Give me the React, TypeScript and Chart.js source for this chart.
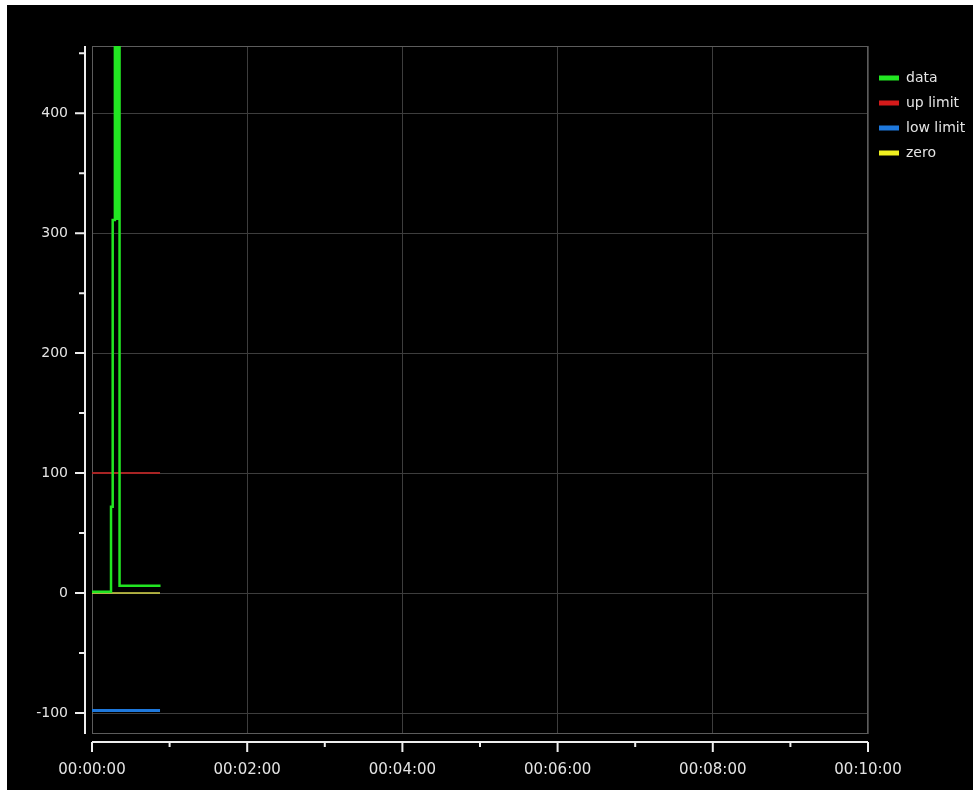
import React, { useEffect, useRef } from 'react';
import { Chart, registerables } from 'chart.js';

Chart.register(...registerables);

// seconds since start
const dataTimes = [0, 14.7, 14.7, 16, 16, 17.7, 17.7, 18.9, 18.9, 20.1, 20.1, 21.3, 21.3, 53];
const dataValues = [1, 1, 72, 72, 311, 311, 1500, 1500, 312, 312, 1500, 1500, 6, 6];

const limitTimes = [0, 52.6];
const upLimit = [100, 100];
const lowLimit = [-98, -98];
const zeroLine = [0, 0];

const yTicks = [-100, 0, 100, 200, 300, 400];
const yMinorTicks = [-100, -50, 0, 50, 100, 150, 200, 250, 300, 350, 400, 450];
const xTicks = [0, 120, 240, 360, 480, 600];
const xMinorTicks = [0, 60, 120, 180, 240, 300, 360, 420, 480, 540, 600];

const GRID = '#3d3d3d';
const FRAME = '#5c5c5c';
const AXIS = '#eeeeee';
const TEXT = '#e4e4e4';
const FAMILY = '"DejaVu Sans", Verdana, sans-serif';

const fmtTime = (s: number) => {
  const h = Math.floor(s / 3600);
  const m = Math.floor((s % 3600) / 60);
  const sec = Math.round(s % 60);
  return [h, m, sec].map(n => String(n).padStart(2, '0')).join(':');
};

const toPoints = (xs: number[], ys: number[]) => xs.map((x, i) => ({ x, y: ys[i] }));

// frame around the plot, and the detached white axes with their tick marks
const axisDecor = {
  id: 'axisDecor',
  beforeDatasetsDraw(chart: any) {
    const { ctx, chartArea: a } = chart;
    ctx.save();
    ctx.strokeStyle = FRAME;
    ctx.lineWidth = 1;
    ctx.strokeRect(a.left + 0.5, a.top + 0.5, a.right - a.left - 1, a.bottom - a.top - 1);
    ctx.restore();
  },
  afterDraw(chart: any) {
    const { ctx, chartArea: a, scales } = chart;
    const ax = a.left - 7;
    const ay = a.bottom + 8;
    ctx.save();
    ctx.strokeStyle = AXIS;
    ctx.lineWidth = 2;
    ctx.beginPath();
    ctx.moveTo(ax, a.top);
    ctx.lineTo(ax, a.bottom);
    ctx.moveTo(a.left, ay);
    ctx.lineTo(a.right, ay);
    yMinorTicks.forEach(v => {
      const y = scales.y.getPixelForValue(v);
      const len = yTicks.includes(v) ? 10 : 6;
      ctx.moveTo(ax - len, y);
      ctx.lineTo(ax, y);
    });
    xMinorTicks.forEach(v => {
      const x = scales.x.getPixelForValue(v);
      const len = xTicks.includes(v) ? 10 : 5;
      ctx.moveTo(x, ay);
      ctx.lineTo(x, ay + len);
    });
    ctx.stroke();
    ctx.restore();
  },
};

const App: React.FC = () => {
  const canvasRef = useRef<HTMLCanvasElement | null>(null);

  useEffect(() => {
    if (!canvasRef.current) return;
    const chart = new Chart(canvasRef.current, {
      type: 'line',
      data: {
        datasets: [
          { label: 'data', data: toPoints(dataTimes, dataValues), borderColor: '#22e622', backgroundColor: '#22e622', borderWidth: 2.5 },
          { label: 'up limit', data: toPoints(limitTimes, upLimit), borderColor: '#a82424', backgroundColor: '#d41a1a', borderWidth: 2 },
          { label: 'low limit', data: toPoints(limitTimes, lowLimit), borderColor: '#1e78dc', backgroundColor: '#1e78dc', borderWidth: 3 },
          { label: 'zero', data: toPoints(limitTimes, zeroLine), borderColor: '#d8d84a', backgroundColor: '#f0f020', borderWidth: 1.5 },
        ],
      },
      options: {
        animation: false,
        responsive: true,
        maintainAspectRatio: false,
        events: [],
        elements: { point: { radius: 0 }, line: { tension: 0 } },
        layout: { padding: { top: 41, left: 0, right: 0, bottom: 0 } },
        scales: {
          x: {
            type: 'linear',
            min: 0,
            max: 600,
            afterBuildTicks: (scale: any) => { scale.ticks = xTicks.map(value => ({ value })); },
            afterFit: (scale: any) => { scale.height = 56; },
            grid: { color: GRID, drawTicks: false },
            border: { display: false },
            ticks: {
              color: TEXT,
              font: { family: FAMILY, size: 15 },
              padding: 27,
              maxRotation: 0,
              callback: (v: any) => fmtTime(Number(v)),
            },
          },
          y: {
            type: 'linear',
            min: -117.5,
            max: 456,
            afterBuildTicks: (scale: any) => { scale.ticks = yTicks.map(value => ({ value })); },
            afterFit: (scale: any) => { scale.width = 85; },
            grid: { color: GRID, drawTicks: false },
            border: { display: false },
            ticks: { color: TEXT, font: { family: FAMILY, size: 14 }, padding: 24 },
          },
        },
        plugins: {
          tooltip: { enabled: false },
          legend: {
            position: 'right',
            align: 'start',
            maxWidth: 105,
            title: { display: true, text: '', font: { size: 10 }, padding: { top: 0, bottom: 2 } },
            labels: {
              color: TEXT,
              font: { family: FAMILY, size: 14 },
              boxWidth: 20,
              boxHeight: 5,
              padding: 11,
              generateLabels: (c: any) =>
                Chart.defaults.plugins.legend.labels.generateLabels(c).map((l: any) => ({ ...l, lineWidth: 0 })),
            },
          },
        },
      },
      plugins: [axisDecor],
    });
    return () => {
      chart.destroy();
    };
  }, []);

  return (
    <div style={{ position: 'fixed', left: 0, top: 0, right: 0, bottom: 0, background: '#ffffff' }}>
      <div style={{ position: 'absolute', left: 7, top: 5, right: 0, bottom: 0, background: '#000000' }}>
        <canvas ref={canvasRef} />
      </div>
    </div>
  );
};

export default App;
